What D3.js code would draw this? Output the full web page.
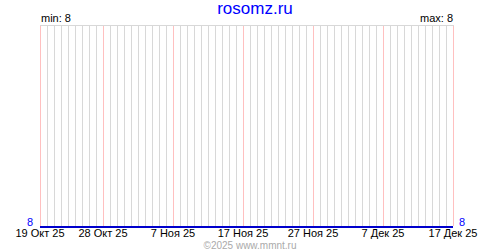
<!DOCTYPE html>
<html>
<head>
<meta charset="utf-8">
<script src="https://cdn.jsdelivr.net/npm/d3@7"></script>
<style>
body { margin: 0; background: #fff; }
text { font-family: "Liberation Sans", Arial, sans-serif; }
</style>
</head>
<body>
<svg id="chart" width="500" height="250"></svg>
<script>
const svg = d3.select("#chart");
const margin = {left: 40, right: 47, top: 25, bottom: 24};

// Data: daily values, 19 Oct 2025 .. 17 Dec 2025 (all 8)
const startDate = new Date(2025, 9, 19);
const endDate = new Date(2025, 11, 17);
const days = d3.timeDay.range(startDate, d3.timeDay.offset(endDate, 1));
const values = [8, 8, 8, 8, 8, 8, 8, 8, 8, 8, 8, 8, 8, 8, 8, 8, 8, 8, 8, 8,
                8, 8, 8, 8, 8, 8, 8, 8, 8, 8, 8, 8, 8, 8, 8, 8, 8, 8, 8, 8,
                8, 8, 8, 8, 8, 8, 8, 8, 8, 8, 8, 8, 8, 8, 8, 8, 8, 8, 8, 8];
const tickDates = [new Date(2025, 9, 19), new Date(2025, 9, 28), new Date(2025, 10, 7),
                   new Date(2025, 10, 17), new Date(2025, 10, 27), new Date(2025, 11, 7),
                   new Date(2025, 11, 17)];
const tickLabels = ["19 Окт 25", "28 Окт 25", "7 Ноя 25", "17 Ноя 25", "27 Ноя 25", "7 Дек 25", "17 Дек 25"];

const data = days.map((d, i) => ({date: d, value: values[i]}));

const x = d3.scaleTime()
    .domain([startDate, endDate])
    .range([margin.left, 500 - margin.right]);
const y = d3.scaleLinear()
    .domain([8, 9])
    .range([250 - margin.bottom, margin.top]);

// day grid
svg.append("g").selectAll("line")
    .data(days)
    .enter().append("line")
    .attr("x1", d => Math.round(x(d)) + 0.5)
    .attr("x2", d => Math.round(x(d)) + 0.5)
    .attr("y1", margin.top)
    .attr("y2", 250 - margin.bottom)
    .attr("stroke", d => tickDates.some(t => +t === +d) ? "#ffc0c0" : "#d8d8d8");

// top border
svg.append("line")
    .attr("x1", margin.left).attr("x2", 500 - margin.right + 1)
    .attr("y1", margin.top + 0.5).attr("y2", margin.top + 0.5)
    .attr("stroke", "#d8d8d8");

// value line
const line = d3.line()
    .x(d => Math.round(x(d.date)))
    .y(d => Math.round(y(d.value)) + 1);
svg.append("path")
    .datum(data)
    .attr("d", line)
    .attr("fill", "none")
    .attr("stroke", "#0000cc")
    .attr("stroke-width", 2);

// date labels
svg.append("g").selectAll("text")
    .data(tickDates)
    .enter().append("text")
    .attr("x", d => x(d))
    .attr("y", 237)
    .attr("text-anchor", "middle")
    .attr("font-size", 11)
    .attr("fill", "#000")
    .text((d, i) => tickLabels[i]);

// end values
svg.append("text")
    .attr("x", 33).attr("y", 226)
    .attr("text-anchor", "end")
    .attr("font-size", 11)
    .attr("fill", "#0000ff")
    .text(values[0]);
svg.append("text")
    .attr("x", 459).attr("y", 226)
    .attr("font-size", 11)
    .attr("fill", "#0000ff")
    .text(values[values.length - 1]);

// min / max
svg.append("text")
    .attr("x", 41).attr("y", 22)
    .attr("font-size", 11)
    .text("min: " + d3.min(values));
svg.append("text")
    .attr("x", 453).attr("y", 22)
    .attr("text-anchor", "end")
    .attr("font-size", 11)
    .text("max: " + d3.max(values));

// title
svg.append("text")
    .attr("x", 255).attr("y", 14)
    .attr("text-anchor", "middle")
    .attr("font-size", 17)
    .attr("fill", "#0000ff")
    .text("rosomz.ru");

// copyright
svg.append("text")
    .attr("x", 250).attr("y", 249)
    .attr("text-anchor", "middle")
    .attr("font-size", 10)
    .attr("fill", "#aaaaaa")
    .text("©2025 www.mmnt.ru");
</script>
</body>
</html>
